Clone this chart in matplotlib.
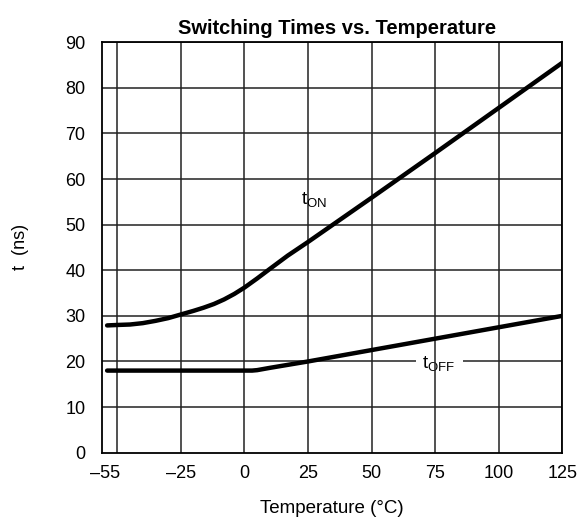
import matplotlib
matplotlib.use("Agg")
import matplotlib.pyplot as plt

plt.rcParams['font.family'] = ['Liberation Sans', 'DejaVu Sans']
plt.rcParams['mathtext.fontset'] = 'custom'
plt.rcParams['mathtext.rm'] = 'Liberation Sans'

# t_ON curve (ns) vs temperature (degC)
ton_temp = [-54, -50, -45, -40, -35, -30, -25, -20, -16, -12, -8, -4, 0, 2, 5, 10, 17, 25, 50, 75, 100, 125]
ton_ns = [27.9, 28.0, 28.1, 28.4, 28.9, 29.5, 30.3, 31.1, 31.8, 32.6, 33.6, 34.8, 36.2, 37.0, 38.2, 40.3, 43.2, 46.2, 55.9, 65.7, 75.6, 85.5]

# t_OFF curve
toff_temp = [-54, -25, 0, 3, 5, 7, 10, 25, 50, 75, 100, 125]
toff_ns = [18.0, 18.0, 18.0, 18.0, 18.1, 18.3, 18.6, 20.0, 22.5, 25.0, 27.5, 30.0]

xtick_vals = [-55, -25, 0, 25, 50, 75, 100, 125]
xtick_labels = ['\u201355', '\u201325', '0', '25', '50', '75', '100', '125']
xgrid_vals = [-50, -25, 0, 25, 50, 75, 100, 125]
ytick_vals = list(range(0, 91, 10))

fig = plt.figure(figsize=(5.84, 5.27), dpi=100)
ax = fig.add_axes([0.1747, 0.141, 0.7883, 0.779])

ax.plot(ton_temp, ton_ns, color='black', lw=3.2, solid_capstyle='round', solid_joinstyle='round', zorder=3)
ax.plot(toff_temp, toff_ns, color='black', lw=3.2, solid_capstyle='round', solid_joinstyle='round', zorder=3)

ax.set_xlim(-56, 125)
ax.set_ylim(0, 90)

ax.set_xticks(xtick_vals)
ax.set_xticklabels(xtick_labels)
ax.set_yticks(ytick_vals)
ax.tick_params(axis='both', which='both', length=0, labelsize=13)
ax.tick_params(axis='x', pad=9)
ax.tick_params(axis='y', pad=12)

# horizontal grid goes under the label box, vertical grid over it
for yv in ytick_vals[1:]:
    ax.axhline(yv, color='#222222', lw=1.1, zorder=0.5)
# vertical grid sits at -50 while the first label reads -55
for xv in xgrid_vals:
    ax.axvline(xv, color='#222222', lw=1.1, zorder=2)
for s in ax.spines.values():
    s.set_linewidth(1.3)
    s.set_zorder(5)

ax.text(27.5, 55.5, r'$\mathregular{t_{ON}}$', fontsize=13.5, ha='center', va='center', zorder=4)
ax.text(76.5, 19.6, r'$\mathregular{t_{OFF}}$', fontsize=13.5, ha='center', va='center', zorder=1.5,
        bbox=dict(facecolor='white', edgecolor='none', pad=5))

ax.set_title('Switching Times vs. Temperature', fontsize=14.5, fontweight='bold', pad=6, x=0.51)
ax.set_xlabel('Temperature (\u00b0C)', fontsize=13.5, labelpad=13)
ax.set_ylabel('t  (ns)', fontsize=13, labelpad=26)

fig.savefig('out.png', dpi=100)
